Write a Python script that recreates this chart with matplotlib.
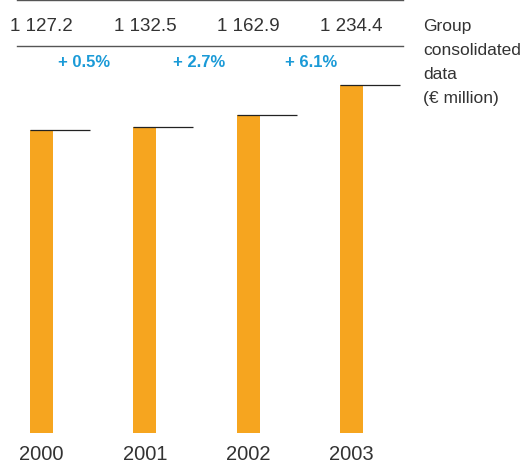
import numpy as np
import matplotlib.pyplot as plt

years = ["2000", "2001", "2002", "2003"]
values = [1127.2, 1132.5, 1162.9, 1234.4]
growth = ["+ 0.5%", "+ 2.7%", "+ 6.1%"]
side_label = "Group\nconsolidated\ndata\n(€ million)"

plt.rcParams['font.family'] = ['Liberation Sans', 'DejaVu Sans']

orange = "#f6a51f"
blue = "#1a9ad7"
grey = "#333333"

fig = plt.figure(figsize=(5.23, 4.64), dpi=100)
ax = fig.add_axes([0.0325, 0.0647, 0.7385, 0.9332])

x = np.arange(len(years))
w = 0.223
ax.bar(x, values, width=w, color=orange, zorder=2)
# thin rule running right from the top of each bar
ax.hlines(values, x - w / 2, x - w / 2 + 0.58, color="#222222", lw=0.9, zorder=3)

ax.set_xlim(-0.237, 3.5)
ax.set_ylim(405, 1436)

for s in ["left", "right", "bottom"]:
    ax.spines[s].set_visible(False)
ax.spines["top"].set_color("#555555")
ax.spines["top"].set_linewidth(1.0)
# rule under the value row
ax.plot([0, 1], [0.8938, 0.8938], transform=ax.transAxes, color="#555555",
        lw=1.0, clip_on=False)

ax.set_yticks([])
ax.set_xticks(x)
ax.set_xticklabels(years, fontsize=14.5, color=grey)
ax.tick_params(axis="x", length=0, pad=8)

# header: values and year-on-year growth
for xi, v in zip(x, values):
    ax.text(xi, 0.942, f"{int(v) // 1000} {int(v) % 1000:03d}.{round(v * 10) % 10}",
            transform=ax.get_xaxis_transform(), ha="center", va="center",
            fontsize=13.5, color=grey)

growth_x = [0.41, 1.53, 2.61]
for gx, g in zip(growth_x, growth):
    ax.text(gx, 0.857, g, transform=ax.get_xaxis_transform(), ha="center",
            va="center", fontsize=12, fontweight="bold", color=blue)

fig.text(423 / 523, 1 - 19 / 464, side_label, ha="left", va="top",
         fontsize=12.5, color=grey, linespacing=1.75)

fig.savefig("out.png", dpi=100)
